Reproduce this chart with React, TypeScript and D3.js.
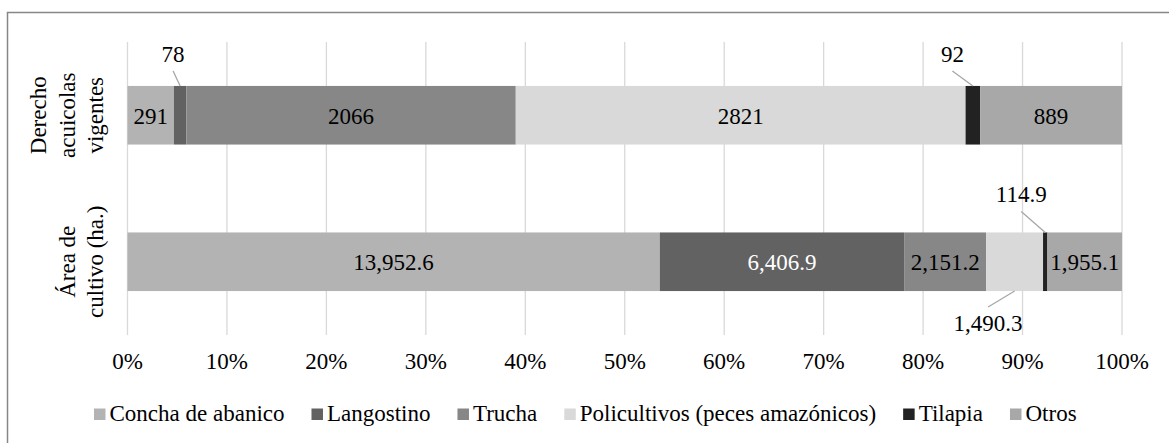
import React from "react";
import * as d3 from "d3";

// Category labels (one entry per line of the wrapped axis label)
const categoryLines: string[][] = [
  ["Derecho", "acuicolas", "vigentes"],
  ["Área de", "cultivo (ha.)"],
];
const categories = categoryLines.map((l) => l.join(" "));

const seriesNames = [
  "Concha de abanico",
  "Langostino",
  "Trucha",
  "Policultivos (peces amazónicos)",
  "Tilapia",
  "Otros",
];

// Values per series, for each category
const derechosVigentes = [291, 78, 2066, 2821, 92, 889];
const areaCultivo = [13952.6, 6406.9, 2151.2, 1490.3, 114.9, 1955.1];

const seriesColors = ["#b3b3b3", "#626262", "#878787", "#d9d9d9", "#222222", "#a8a8a8"];
const labelColors = ["#000", "#fff", "#000", "#000", "#000", "#000"];

const tickValues = [0, 0.1, 0.2, 0.3, 0.4, 0.5, 0.6, 0.7, 0.8, 0.9, 1];

// Labels of narrow segments are moved outside the bar with a leader line
const callouts = [
  { cat: 0, ser: 1, dx: -7, dy: -24, side: "above" },
  { cat: 0, ser: 4, dx: -20.5, dy: -24, side: "above" },
  { cat: 1, ser: 4, dx: -24, dy: -30, side: "above" },
  { cat: 1, ser: 3, dx: -26.5, dy: 40, side: "below" },
];

const W = 1169;
const H = 443;
const FONT =
  "'Liberation Serif', Tinos, 'Noto Serif', 'DejaVu Serif', 'Nimbus Roman', FreeSerif, Times, 'Times New Roman', serif";
const FS = 23;

const plot = { left: 127.5, right: 1122, top: 42, bottom: 335 };

const formats = [d3.format("d"), d3.format(",.1f")];

function measure(text: string): number {
  if (typeof document === "undefined") return text.length * FS * 0.5;
  const c = document.createElement("canvas").getContext("2d");
  if (!c) return text.length * FS * 0.5;
  c.font = `${FS}px ${FONT}`;
  return c.measureText(text).width;
}

const T = (props: any) => (
  <text style={{ fontFamily: FONT }} fontSize={FS} fill="#000" {...props} />
);

export default function App() {
  const rows = [derechosVigentes, areaCultivo];
  const table = categories.map((c, i) => {
    const o: Record<string, any> = { category: c };
    seriesNames.forEach((s, j) => (o[s] = rows[i][j]));
    return o;
  });
  const stacked = d3.stack().keys(seriesNames).offset(d3.stackOffsetExpand)(table as any);

  const x = d3.scaleLinear().domain([0, 1]).range([plot.left, plot.right]);
  const y = d3
    .scaleBand()
    .domain(categories)
    .range([plot.top, plot.bottom])
    .paddingInner(0.6)
    .paddingOuter(0.3);
  const bw = y.bandwidth();
  const pct = d3.format(".0%");

  const isCallout = (cat: number, ser: number) =>
    callouts.some((c) => c.cat === cat && c.ser === ser);

  // legend layout
  const sq = 11.5;
  let lx = 94;
  const legendItems = seriesNames.map((name, i) => {
    const item = { name, color: seriesColors[i], x: lx };
    lx += sq + 4 + measure(name) + 27;
    return item;
  });

  return (
    <div>
      <style>{`body{margin:0}`}</style>
      <svg width={W} height={H} style={{ display: "block" }}>
        <rect x={0} y={0} width={W} height={H} fill="#fff" />
        <rect x={7.5} y={12.5} width={1300} height={600} fill="none" stroke="#878787" strokeWidth={1.5} />

        {/* gridlines */}
        {tickValues.map((t) => (
          <line
            key={t}
            x1={x(t)}
            x2={x(t)}
            y1={plot.top}
            y2={plot.bottom}
            stroke="#d9d9d9"
            strokeWidth={1.3}
          />
        ))}

        {/* stacked bars */}
        {stacked.map((layer, j) =>
          layer.map((d, i) => (
            <rect
              key={`${j}-${i}`}
              x={x(d[0])}
              width={x(d[1]) - x(d[0])}
              y={y(categories[i])}
              height={bw}
              fill={seriesColors[j]}
            />
          ))
        )}

        {/* labels inside segments */}
        {stacked.map((layer, j) =>
          layer.map((d, i) =>
            isCallout(i, j) ? null : (
              <T
                key={`l${j}-${i}`}
                x={(x(d[0]) + x(d[1])) / 2}
                y={(y(categories[i]) as number) + bw / 2 + 8.3}
                textAnchor="middle"
                fill={labelColors[j]}
              >
                {formats[i](rows[i][j])}
              </T>
            )
          )
        )}

        {/* callout labels */}
        {callouts.map((c, k) => {
          const d = stacked[c.ser][c.cat];
          const cx = (x(d[0]) + x(d[1])) / 2;
          const top = y(categories[c.cat]) as number;
          const bottom = top + bw;
          const lxp = cx + c.dx;
          if (c.side === "above") {
            const base = top + c.dy;
            return (
              <g key={`c${k}`}>
                <line x1={lxp} y1={base + 9} x2={cx} y2={top} stroke="#a6a6a6" strokeWidth={1.3} />
                <T x={lxp} y={base} textAnchor="middle">
                  {formats[c.cat](rows[c.cat][c.ser])}
                </T>
              </g>
            );
          }
          const base = bottom + c.dy;
          return (
            <g key={`c${k}`}>
              <line x1={cx} y1={bottom} x2={lxp} y2={base - 24} stroke="#a6a6a6" strokeWidth={1.3} />
              <T x={lxp} y={base} textAnchor="middle">
                {formats[c.cat](rows[c.cat][c.ser])}
              </T>
            </g>
          );
        })}

        {/* x tick labels */}
        {tickValues.map((t) => (
          <T key={`t${t}`} x={x(t)} y={369} textAnchor="middle">
            {pct(t)}
          </T>
        ))}

        {/* category labels, rotated */}
        {categoryLines.map((lines, i) => {
          const cy = (y(categories[i]) as number) + bw / 2;
          return lines.map((line, k) => {
            const bx = 103 - (lines.length - 1 - k) * 28.5;
            return (
              <T
                key={`cat${i}-${k}`}
                transform={`translate(${bx},${cy}) rotate(-90)`}
                textAnchor="middle"
              >
                {line}
              </T>
            );
          });
        })}

        {/* legend */}
        {legendItems.map((it) => (
          <g key={it.name}>
            <rect x={it.x} y={420 - sq} width={sq} height={sq} fill={it.color} />
            <T x={it.x + sq + 4} y={421}>
              {it.name}
            </T>
          </g>
        ))}
      </svg>
    </div>
  );
}
